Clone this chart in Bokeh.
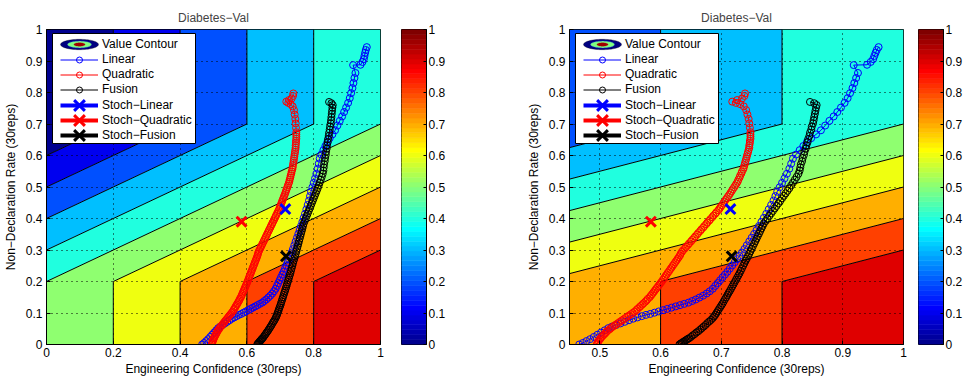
import numpy as np
from bokeh.plotting import figure
from bokeh.models import Range1d, FixedTicker, Legend, LegendItem, BoxAnnotation, PolyAnnotation
from bokeh.layouts import row
from bokeh.embed import file_html
from bokeh.resources import INLINE

FONT = "Liberation Sans"
TITLE = "Diabetes\u2212Val"
XLABEL = "Engineering Confidence (30reps)"
YLABEL = "Non\u2212Declaration Rate (30reps)"

# ---------------- data ----------------
grid_x = [0.0, 0.2, 0.4, 0.6, 0.8, 1.0]
grid_y = [0.0, 0.1, 0.2, 0.3, 0.4, 0.5, 0.6, 0.7, 0.8, 0.9, 1.0]
value_z = [
    [0.5, 0.6, 0.7, 0.8, 0.9, 1.0],
    [0.5, 0.6, 0.7, 0.8, 0.9, 1.0],
    [0.5, 0.6, 0.7, 0.8, 0.9, 1.0],
    [0.4, 0.5, 0.6, 0.7, 0.8, 0.9],
    [0.3, 0.4, 0.5, 0.6, 0.7, 0.8],
    [0.2, 0.3, 0.4, 0.5, 0.6, 0.7],
    [0.1, 0.2, 0.3, 0.4, 0.5, 0.6],
    [0.0, 0.1, 0.2, 0.3, 0.4, 0.5],
    [0.0, 0.1, 0.2, 0.3, 0.4, 0.5],
    [0.0, 0.1, 0.2, 0.3, 0.4, 0.5],
    [0.0, 0.1, 0.2, 0.3, 0.4, 0.5],
]
contour_levels = [0.0, 0.1, 0.2, 0.3, 0.4, 0.5, 0.6, 0.7, 0.8, 0.9, 1.0]

linear_x = [0.466, 0.472, 0.478, 0.484, 0.490, 0.496, 0.502, 0.508, 0.514, 0.520,
            0.527, 0.534, 0.541, 0.548, 0.555, 0.562, 0.569, 0.576, 0.583, 0.590,
            0.597, 0.604, 0.611, 0.618, 0.625, 0.632, 0.639, 0.646, 0.652, 0.658,
            0.664, 0.670, 0.676, 0.681, 0.686, 0.690, 0.694, 0.698, 0.702, 0.706,
            0.710, 0.714, 0.718, 0.722, 0.726, 0.730, 0.734, 0.738, 0.742, 0.746,
            0.750, 0.754, 0.758, 0.762, 0.766, 0.770, 0.774, 0.778, 0.782, 0.786,
            0.789, 0.792, 0.796, 0.800, 0.804, 0.808, 0.812, 0.815, 0.818, 0.823,
            0.829, 0.835, 0.841, 0.848, 0.856, 0.864, 0.871, 0.878, 0.885, 0.891,
            0.897, 0.903, 0.908, 0.912, 0.916, 0.919, 0.922, 0.925, 0.918, 0.940,
            0.946, 0.950, 0.952, 0.954, 0.956, 0.959]
linear_y = [0.000, 0.005, 0.011, 0.017, 0.024, 0.031, 0.038, 0.045, 0.052, 0.057,
            0.062, 0.067, 0.072, 0.077, 0.082, 0.086, 0.090, 0.094, 0.097, 0.101,
            0.105, 0.109, 0.113, 0.117, 0.121, 0.125, 0.129, 0.133, 0.138, 0.143,
            0.149, 0.155, 0.162, 0.169, 0.177, 0.186, 0.195, 0.204, 0.213, 0.222,
            0.231, 0.241, 0.251, 0.261, 0.271, 0.281, 0.292, 0.303, 0.315, 0.327,
            0.339, 0.351, 0.363, 0.376, 0.389, 0.402, 0.415, 0.429, 0.443, 0.457,
            0.471, 0.485, 0.499, 0.513, 0.527, 0.542, 0.558, 0.574, 0.590, 0.603,
            0.617, 0.630, 0.643, 0.655, 0.667, 0.680, 0.695, 0.710, 0.724, 0.738,
            0.752, 0.767, 0.782, 0.798, 0.814, 0.830, 0.846, 0.862, 0.887, 0.888,
            0.897, 0.906, 0.916, 0.926, 0.935, 0.944]

quad_x = [0.495, 0.496, 0.497, 0.498, 0.500, 0.501, 0.503, 0.505, 0.507, 0.509,
          0.511, 0.513, 0.516, 0.518, 0.521, 0.524, 0.527, 0.530, 0.533, 0.536,
          0.539, 0.542, 0.545, 0.548, 0.551, 0.554, 0.557, 0.560, 0.562, 0.565,
          0.567, 0.570, 0.572, 0.575, 0.577, 0.579, 0.582, 0.584, 0.586, 0.588,
          0.590, 0.592, 0.594, 0.596, 0.598, 0.600, 0.602, 0.604, 0.606, 0.608,
          0.610, 0.612, 0.614, 0.616, 0.618, 0.620, 0.622, 0.624, 0.626, 0.628,
          0.630, 0.632, 0.633, 0.635, 0.637, 0.640, 0.642, 0.645, 0.647, 0.650,
          0.652, 0.655, 0.657, 0.660, 0.662, 0.665, 0.667, 0.670, 0.672, 0.675,
          0.677, 0.680, 0.682, 0.685, 0.687, 0.690, 0.692, 0.695, 0.697, 0.699,
          0.701, 0.703, 0.705, 0.707, 0.709, 0.711, 0.713, 0.715, 0.717, 0.719,
          0.721, 0.723, 0.725, 0.727, 0.728, 0.730, 0.731, 0.733, 0.734, 0.736,
          0.737, 0.738, 0.739, 0.740, 0.741, 0.742, 0.743, 0.744, 0.745, 0.746,
          0.746, 0.747, 0.747, 0.748, 0.748, 0.748, 0.748, 0.747, 0.746, 0.745,
          0.743, 0.741, 0.737, 0.731, 0.724, 0.718, 0.726, 0.734, 0.738, 0.739]
quad_y = [0.000, 0.004, 0.008, 0.012, 0.016, 0.020, 0.024, 0.028, 0.032, 0.036,
          0.040, 0.044, 0.048, 0.052, 0.056, 0.060, 0.064, 0.068, 0.072, 0.076,
          0.080, 0.084, 0.088, 0.092, 0.096, 0.100, 0.104, 0.109, 0.113, 0.118,
          0.122, 0.127, 0.131, 0.136, 0.140, 0.145, 0.150, 0.155, 0.160, 0.165,
          0.170, 0.175, 0.180, 0.185, 0.190, 0.195, 0.200, 0.206, 0.211, 0.217,
          0.222, 0.228, 0.233, 0.239, 0.244, 0.250, 0.255, 0.261, 0.266, 0.272,
          0.277, 0.283, 0.288, 0.294, 0.299, 0.305, 0.310, 0.316, 0.321, 0.327,
          0.332, 0.338, 0.343, 0.349, 0.354, 0.360, 0.365, 0.371, 0.376, 0.382,
          0.387, 0.393, 0.398, 0.404, 0.409, 0.415, 0.420, 0.426, 0.431, 0.437,
          0.442, 0.448, 0.453, 0.459, 0.464, 0.470, 0.475, 0.481, 0.487, 0.493,
          0.499, 0.505, 0.511, 0.517, 0.523, 0.530, 0.536, 0.543, 0.549, 0.556,
          0.562, 0.569, 0.576, 0.583, 0.590, 0.597, 0.604, 0.611, 0.618, 0.625,
          0.632, 0.639, 0.646, 0.653, 0.660, 0.667, 0.674, 0.688, 0.702, 0.716,
          0.730, 0.744, 0.756, 0.763, 0.767, 0.771, 0.776, 0.781, 0.789, 0.797]

fusion_x = [0.631, 0.633, 0.635, 0.637, 0.639, 0.641, 0.643, 0.645, 0.647, 0.650,
            0.653, 0.656, 0.659, 0.662, 0.665, 0.668, 0.671, 0.674, 0.677, 0.680,
            0.683, 0.686, 0.688, 0.690, 0.692, 0.694, 0.696, 0.698, 0.700, 0.702,
            0.704, 0.706, 0.708, 0.710, 0.712, 0.714, 0.716, 0.718, 0.720, 0.722,
            0.724, 0.726, 0.728, 0.730, 0.732, 0.734, 0.736, 0.738, 0.740, 0.742,
            0.744, 0.746, 0.748, 0.750, 0.752, 0.754, 0.756, 0.758, 0.760, 0.762,
            0.764, 0.766, 0.768, 0.770, 0.773, 0.776, 0.779, 0.782, 0.785, 0.788,
            0.791, 0.794, 0.797, 0.800, 0.803, 0.806, 0.809, 0.812, 0.815, 0.818,
            0.821, 0.824, 0.827, 0.829, 0.830, 0.831, 0.833, 0.834, 0.836, 0.837,
            0.839, 0.840, 0.842, 0.843, 0.845, 0.846, 0.848, 0.849, 0.851, 0.852,
            0.853, 0.854, 0.855, 0.856, 0.857, 0.853, 0.846]
fusion_y = [0.000, 0.003, 0.005, 0.008, 0.010, 0.013, 0.015, 0.018, 0.020, 0.024,
            0.029, 0.033, 0.038, 0.042, 0.047, 0.052, 0.057, 0.062, 0.068, 0.073,
            0.078, 0.084, 0.089, 0.094, 0.100, 0.106, 0.112, 0.118, 0.124, 0.130,
            0.137, 0.144, 0.150, 0.157, 0.164, 0.170, 0.177, 0.184, 0.191, 0.198,
            0.205, 0.212, 0.219, 0.226, 0.234, 0.242, 0.250, 0.258, 0.266, 0.273,
            0.280, 0.288, 0.296, 0.304, 0.312, 0.320, 0.328, 0.336, 0.344, 0.352,
            0.360, 0.368, 0.376, 0.384, 0.392, 0.400, 0.408, 0.416, 0.424, 0.432,
            0.440, 0.448, 0.456, 0.464, 0.472, 0.480, 0.488, 0.496, 0.505, 0.514,
            0.523, 0.532, 0.542, 0.552, 0.562, 0.572, 0.582, 0.592, 0.602, 0.612,
            0.622, 0.632, 0.642, 0.652, 0.662, 0.672, 0.682, 0.692, 0.702, 0.712,
            0.722, 0.732, 0.742, 0.752, 0.760, 0.766, 0.770]

stoch_x = [0.715, 0.584, 0.717]   # Stoch-Linear, Stoch-Quadratic, Stoch-Fusion
stoch_y = [0.430, 0.390, 0.280]

series_names = ["Linear", "Quadratic", "Fusion"]
stoch_names = ["Stoch\u2212Linear", "Stoch\u2212Quadratic", "Stoch\u2212Fusion"]
series_colors = ["#0000ff", "#ff0000", "#000000"]

y_ticks = [0.0, 0.1, 0.2, 0.3, 0.4, 0.5, 0.6, 0.7, 0.8, 0.9, 1.0]
y_tick_labels = ["0", "0.1", "0.2", "0.3", "0.4", "0.5", "0.6", "0.7", "0.8", "0.9", "1"]
x_ticks_left = [0.0, 0.2, 0.4, 0.6, 0.8, 1.0]
x_tick_labels_left = ["0", "0.2", "0.4", "0.6", "0.8", "1"]
x_ticks_right = [0.5, 0.6, 0.7, 0.8, 0.9, 1.0]
x_tick_labels_right = ["0.5", "0.6", "0.7", "0.8", "0.9", "1"]
x_range_left = (0.0, 1.0)
x_range_right = (0.45, 1.0)


# ---------------- colormap (MATLAB jet, 64) ----------------
def matlab_jet(m=64):
    n = int(np.ceil(m / 4))
    u = np.concatenate([np.arange(1, n + 1) / n, np.ones(n - 1), np.arange(n, 0, -1) / n])
    g = int(np.ceil(n / 2)) - (1 if m % 4 == 1 else 0) + np.arange(1, len(u) + 1)
    r = g + n
    b = g - n
    J = np.zeros((m, 3))
    J[r[r <= m] - 1, 0] = u[r <= m]
    J[g[g <= m] - 1, 1] = u[g <= m]
    J[b[b > 0] - 1, 2] = u[b > 0]
    return ["#%02x%02x%02x" % tuple(int(round(c * 255)) for c in rw) for rw in J]


JET = matlab_jet(64)
band_colors = [JET[min(63, int(np.floor(lv * 64 + 1e-9)))] for lv in contour_levels[:-1]]

FW, FH = 334, 315
TOP, BOTTOM = 29, 33


def style_axis(ax, ticks, labels):
    ax.ticker = FixedTicker(ticks=ticks)
    ax.major_label_overrides = dict(zip(ticks, labels))
    ax.major_tick_in = 4
    ax.major_tick_out = 0
    ax.minor_tick_in = 0
    ax.minor_tick_out = 0
    ax.axis_line_color = "black"
    ax.major_tick_line_color = "black"
    ax.major_label_text_font = FONT
    ax.major_label_text_font_size = "12px"
    ax.major_label_text_color = "black"
    ax.axis_label_text_font = FONT
    ax.axis_label_text_font_size = "12px"
    ax.axis_label_text_font_style = "normal"
    ax.axis_label_text_color = "black"


def make_panel(xr, xticks, xlabels, border_left, border_right):
    p = figure(frame_width=FW, frame_height=FH, x_range=Range1d(*xr), y_range=Range1d(0, 1),
               output_backend="svg", toolbar_location=None, title=TITLE,
               x_axis_label=XLABEL, y_axis_label=YLABEL,
               min_border_left=border_left, min_border_right=border_right,
               min_border_top=TOP, min_border_bottom=BOTTOM)
    p.outline_line_color = "black"
    p.outline_line_alpha = 1
    p.outline_line_width = 1
    p.title.text_font = FONT
    p.title.text_font_size = "12px"
    p.title.text_font_style = "normal"
    p.title.align = "center"
    p.title.standoff = 10

    style_axis(p.xaxis[0], xticks, xlabels)
    style_axis(p.yaxis[0], y_ticks, y_tick_labels)
    p.xaxis[0].major_label_standoff = 3
    p.xaxis[0].axis_label_standoff = 2
    p.yaxis[0].major_label_standoff = 4
    p.yaxis[0].axis_label_standoff = 5

    p.xgrid[0].ticker = FixedTicker(ticks=xticks)
    p.ygrid[0].ticker = FixedTicker(ticks=y_ticks)
    for gr in (p.xgrid[0], p.ygrid[0]):
        gr.grid_line_color = "black"
        gr.grid_line_dash = "1 4"
        gr.grid_line_alpha = 1
        gr.grid_line_width = 1

    cr = p.contour(x=grid_x, y=grid_y, z=np.array(value_z), levels=contour_levels,
                   fill_color=band_colors, line_color="black", line_width=1)
    cr.level = "image"

    curves = [(linear_x, linear_y), (quad_x, quad_y), (fusion_x, fusion_y)]
    curve_items = []
    for (cx, cy), col, name in zip(curves, series_colors, series_names):
        lr = p.line(cx, cy, line_color=col, line_width=1)
        sr = p.scatter(cx, cy, marker="circle", size=7, fill_color=None, line_color=col, line_width=1)
        curve_items.append(LegendItem(label=name, renderers=[lr, sr]))

    stoch_items = []
    for i, (col, name) in enumerate(zip(series_colors, stoch_names)):
        lr = p.line([stoch_x[i]], [stoch_y[i]], line_color=col, line_width=4)
        sr = p.scatter([stoch_x[i]], [stoch_y[i]], marker="x", size=14, line_color=col, line_width=3)
        stoch_items.append(LegendItem(label=name, renderers=[lr, sr]))

    dummy = p.scatter(x=[], y=[], fill_alpha=0, line_alpha=0)

    # legend frame (pixel offsets inside the plot frame converted to data units)
    x0, x1 = xr

    def dx(px):
        return x0 + px / FW * (x1 - x0)

    def dy(py):
        return 1 - py / FH

    box = BoxAnnotation(left=dx(6), right=dx(149), top=dy(4), bottom=dy(114),
                        fill_color="white", fill_alpha=1, line_color="black", line_width=1, line_alpha=1)
    p.add_layout(box)

    # "Value Contour" icon: nested ellipses
    t = np.linspace(0, 2 * np.pi, 64)
    cxp, cyp = 33, 15
    for a, b, fc, lc in [(19, 5.2, "#000080", "#000000"), (12, 3.4, "#80ff80", "#2060ff"), (5.5, 1.7, "#a00000", "#a00000")]:
        xs = [dx(cxp + a * np.cos(v)) for v in t]
        ys = [dy(cyp + b * np.sin(v)) for v in t]
        p.add_layout(PolyAnnotation(xs=xs, ys=ys, fill_color=fc, fill_alpha=1, line_color=lc, line_width=1))

    common = dict(orientation="vertical", glyph_width=38, padding=0, margin=0, spacing=0,
                  border_line_color=None, background_fill_alpha=0, label_standoff=4,
                  label_text_font=FONT, label_text_font_size="12px", label_text_color="black",
                  label_height=15)
    legA = Legend(items=[LegendItem(label="Value Contour", renderers=[dummy])] + curve_items,
                  location=(14, FH - 67.5), glyph_height=15, **common)
    p.add_layout(legA)
    for i, it in enumerate(stoch_items):
        centre = 75.7 + 15 * i
        lg = Legend(items=[it], location=(14, FH - (centre + 19)), glyph_height=38, **common)
        p.add_layout(lg)
    return p


def make_cbar(border_left, border_right):
    c = figure(frame_width=25, frame_height=FH, x_range=Range1d(0, 1), y_range=Range1d(0, 1),
               output_backend="svg", toolbar_location=None,
               min_border_left=border_left, min_border_right=border_right,
               min_border_top=TOP, min_border_bottom=BOTTOM,
               x_axis_location=None, y_axis_location="right")
    bottoms = [i / 64 for i in range(64)]
    tops = [(i + 1) / 64 for i in range(64)]
    c.quad(left=0, right=1, bottom=bottoms, top=tops, fill_color=JET, line_color=JET, line_width=0.6)
    c.grid.visible = False
    c.outline_line_color = "black"
    c.outline_line_alpha = 1
    style_axis(c.yaxis[0], y_ticks, y_tick_labels)
    c.yaxis[0].major_tick_in = 3
    c.yaxis[0].major_label_standoff = 2
    return c


p1 = make_panel(x_range_left, x_ticks_left, x_tick_labels_left, 40, 5)
cb1 = make_cbar(16, 30)
p2 = make_panel(x_range_right, x_ticks_right, x_tick_labels_right, 113, 4)
cb2 = make_cbar(11, 19)

layout = row(p1, cb1, p2, cb2)
open("out.html", "w").write(file_html(layout, INLINE))
